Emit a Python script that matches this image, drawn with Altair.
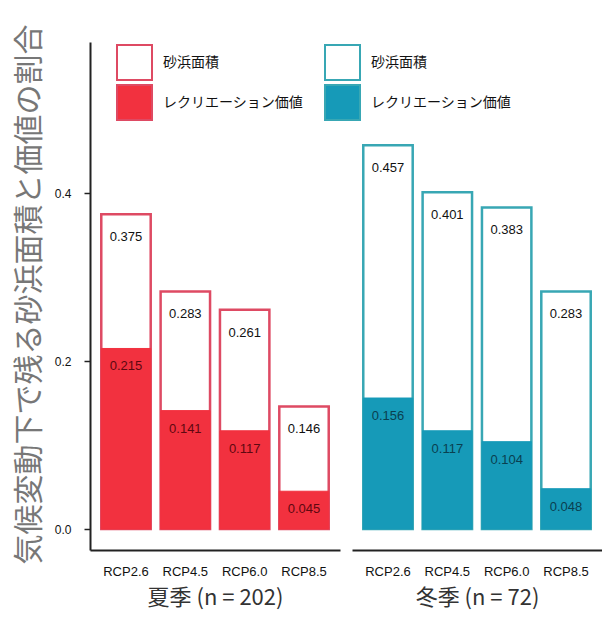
import altair as alt
import pandas as pd

scenarios = ["RCP2.6", "RCP4.5", "RCP6.0", "RCP8.5"]
types = ["砂浜面積", "レクリエーション価値"]
summer_area = [0.375, 0.283, 0.261, 0.146]
summer_rec = [0.215, 0.141, 0.117, 0.045]
winter_area = [0.457, 0.401, 0.383, 0.283]
winter_rec = [0.156, 0.117, 0.104, 0.048]

panel_titles = ["夏季 (n = 202)", "冬季 (n = 72)"]
y_title = "気候変動下で残る砂浜面積と価値の割合"

JP = "Noto Sans CJK JP"
LAT = "Liberation Sans"


def make_df(area, rec):
    rows = []
    for s, a in zip(scenarios, area):
        rows.append({"scenario": s, "type": types[0], "value": a, "label": f"{a:.3f}"})
    for s, r in zip(scenarios, rec):
        rows.append({"scenario": s, "type": types[1], "value": r, "label": f"{r:.3f}"})
    return pd.DataFrame(rows)


yscale = alt.Scale(domain=[-0.025, 0.58], nice=False, zero=False)
xscale = alt.Scale(paddingInner=0.167, paddingOuter=0.19)

W = 250
H = 508


def panel(df, title, fill, outline, dark, show_y, legend_x):
    xenc = alt.X("scenario:N", sort=scenarios, scale=xscale,
                 axis=alt.Axis(title=title, labelAngle=0, ticks=False, domainWidth=2,
                               domainColor="#222", labelFontSize=13, labelFont=LAT,
                               labelColor="#111", labelPadding=15, titleFont=JP,
                               titleFontSize=22, titleFontWeight="normal",
                               titleColor="#333", titlePadding=9, grid=False))
    if show_y:
        yaxis = alt.Axis(title=y_title, values=[0.0, 0.2, 0.4], format=".1f", grid=False,
                         domainWidth=2, domainColor="#222", tickSize=6, tickColor="#222",
                         tickWidth=1.5, labelFontSize=12, labelFont=LAT, labelColor="#111",
                         labelPadding=13, titleFont=JP, titleFontSize=30,
                         titleFontWeight="normal", titleColor="#777", titlePadding=10,
                         titleY=H / 2 - 2)
    else:
        yaxis = None
    yenc = alt.Y("value:Q", scale=yscale, axis=yaxis, stack=None)
    fill_enc = alt.Fill("type:N", scale=alt.Scale(domain=types, range=["white", fill]),
                        legend=alt.Legend(title=None, orient="none", legendX=legend_x,
                                          legendY=2, symbolType="square", symbolSize=1225,
                                          symbolStrokeWidth=2, symbolStrokeColor=outline,
                                          symbolOpacity=1, labelFont=JP, labelFontSize=14,
                                          labelColor="#111", labelOffset=10, rowPadding=-8,
                                          labelLimit=300))
    base = alt.Chart(df).encode(x=xenc, y=yenc)
    area_bar = base.transform_filter(alt.datum.type == types[0]).mark_bar(
        stroke=outline, strokeWidth=2.5).encode(fill=fill_enc)
    rec_bar = base.transform_filter(alt.datum.type == types[1]).mark_bar(
        stroke=fill, strokeWidth=1).encode(fill=fill_enc)
    area_txt = base.transform_filter(alt.datum.type == types[0]).mark_text(
        font=LAT, fontSize=13, color="#111", baseline="middle", dy=23).encode(text="label:N")
    rec_txt = base.transform_filter(alt.datum.type == types[1]).mark_text(
        font=LAT, fontSize=13, color=dark, baseline="middle", dy=18).encode(text="label:N")
    return alt.layer(area_bar, rec_bar, area_txt, rec_txt).properties(
        width=W, height=H, view=alt.ViewBackground(stroke="transparent", strokeWidth=0))


left = panel(make_df(summer_area, summer_rec), panel_titles[0], "#f2313f", "#de4a63",
             "#5e0810", True, 26)
right = panel(make_df(winter_area, winter_rec), panel_titles[1], "#169ab8", "#38a7b4",
              "#0a4050", False, -28)

chart = alt.hconcat(left, right, spacing=12, bounds="flush").resolve_scale(
    fill="independent").properties(
    padding={"left": 6, "top": 16, "right": 0, "bottom": 2}).configure_view(
    strokeWidth=0, stroke="transparent").configure_axis(grid=False).configure(background="white")

chart.save("out.html", embed_options={"renderer": "svg", "actions": False})
